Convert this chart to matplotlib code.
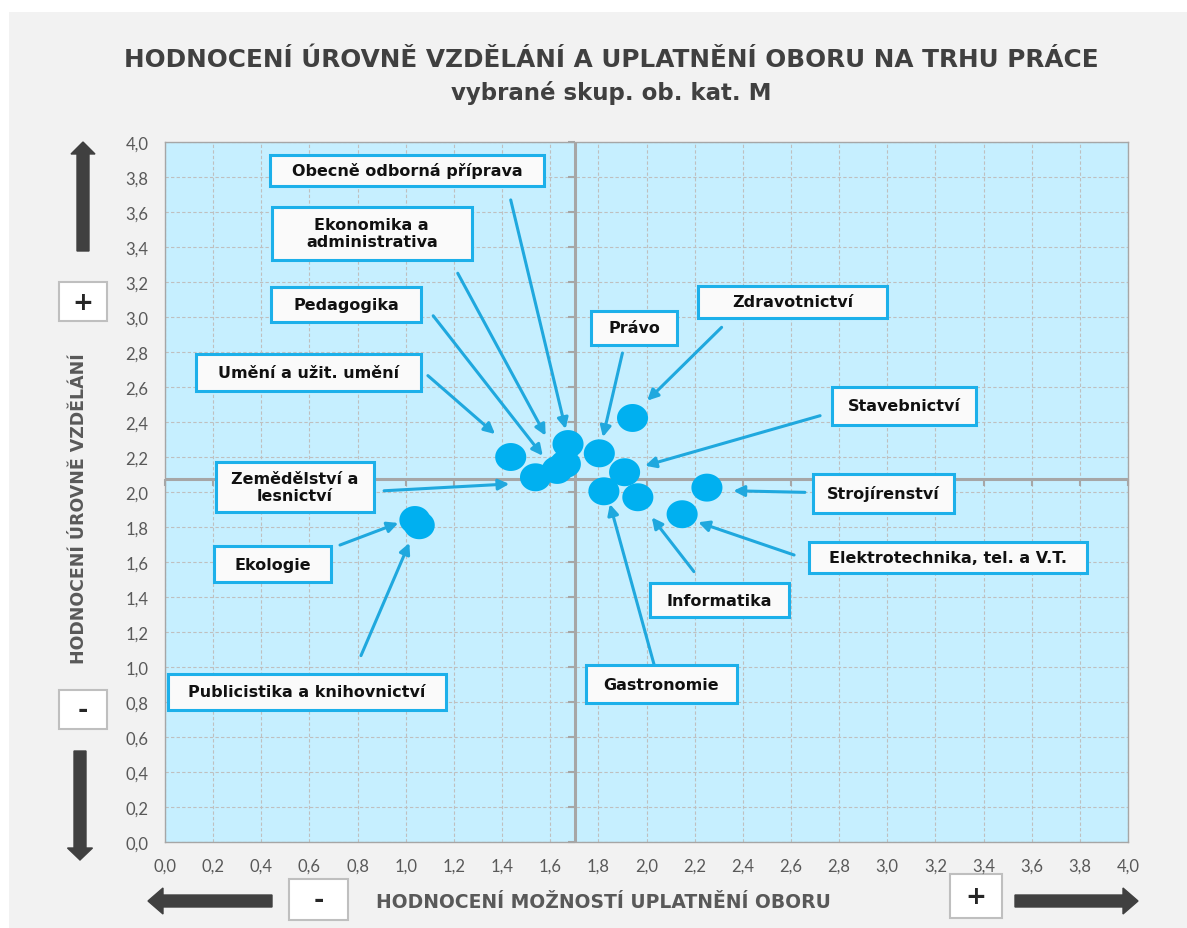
import matplotlib
matplotlib.use('Agg')
import matplotlib.pyplot as plt
from matplotlib.patches import Rectangle, FancyArrow
from matplotlib.path import Path
import numpy as np

# ---------------- data ----------------
categories = ["Obecně odborná příprava", "Ekonomika a\nadministrativa", "Pedagogika",
              "Umění a užit. umění", "Zemědělství a\nlesnictví", "Ekologie",
              "Publicistika a knihovnictví", "Právo", "Zdravotnictví", "Stavebnictví",
              "Strojírenství", "Elektrotechnika, tel. a V.T.", "Informatika", "Gastronomie"]
x_uplatneni = [1.674, 1.663, 1.629, 1.436, 1.539, 1.038, 1.056, 1.804, 1.942, 1.909,
               2.251, 2.148, 1.964, 1.823]
y_vzdelani = [2.274, 2.160, 2.126, 2.200, 2.084, 1.840, 1.810, 2.221, 2.423, 2.113,
              2.025, 1.873, 1.970, 2.004]
x_cross = 1.705
y_cross = 2.075
tick_values = [0.0, 0.2, 0.4, 0.6, 0.8, 1.0, 1.2, 1.4, 1.6, 1.8, 2.0,
               2.2, 2.4, 2.6, 2.8, 3.0, 3.2, 3.4, 3.6, 3.8, 4.0]
tick_labels = ["0,0", "0,2", "0,4", "0,6", "0,8", "1,0", "1,2", "1,4", "1,6", "1,8", "2,0",
               "2,2", "2,4", "2,6", "2,8", "3,0", "3,2", "3,4", "3,6", "3,8", "4,0"]
title = "HODNOCENÍ ÚROVNĚ VZDĚLÁNÍ A UPLATNĚNÍ OBORU NA TRHU PRÁCE"
subtitle = "vybrané skup. ob. kat. M"
xlabel = "HODNOCENÍ MOŽNOSTÍ UPLATNĚNÍ OBORU"
ylabel = "HODNOCENÍ ÚROVNĚ VZDĚLÁNÍ"

# ---------------- layout (data coords) ----------------
# label boxes: (x0, x1, y0, y1)
box_layout = [
    (0.436, 1.574, 3.749, 3.927),
    (0.444, 1.274, 3.327, 3.629),
    (0.440, 1.063, 2.974, 3.173),
    (0.129, 1.063, 2.579, 2.789),
    (0.211, 0.868, 1.884, 2.173),
    (0.205, 0.688, 1.483, 1.690),
    (0.014, 1.167, 0.756, 0.960),
    (1.769, 2.127, 2.840, 3.036),
    (2.214, 2.998, 2.994, 3.179),
    (2.772, 3.369, 2.385, 2.600),
    (2.690, 3.277, 1.878, 2.105),
    (2.675, 3.830, 1.535, 1.716),
    (2.015, 2.592, 1.287, 1.478),
    (1.749, 2.376, 0.794, 1.011),
]
# arrows: (start, tip)
arrow_layout = [
    ((1.436, 3.669), (1.664, 2.360)),
    ((1.216, 3.250), (1.581, 2.322)),
    ((1.114, 3.007), (1.569, 2.207)),
    ((1.092, 2.665), (1.371, 2.331)),
    ((0.910, 2.007), (1.430, 2.046)),
    ((0.727, 1.697), (0.969, 1.823)),
    ((0.814, 1.065), (1.015, 1.709)),
    ((1.900, 2.794), (1.819, 2.314)),
    ((2.312, 2.941), (2.003, 2.522)),
    ((2.721, 2.436), (1.994, 2.150)),
    ((2.658, 1.998), (2.361, 2.007)),
    ((2.613, 1.640), (2.215, 1.827)),
    ((2.197, 1.545), (2.022, 1.855)),
    ((2.032, 1.011), (1.848, 1.931)),
]

W, H = 1187, 929
fig = plt.figure(figsize=(W / 100, H / 100), dpi=100)
fig.patch.set_facecolor('white')

# overlay axes in pixel coordinates (behind main plot)
ovl = fig.add_axes([0, 0, 1, 1], zorder=-1)
ovl.set_xlim(0, W)
ovl.set_ylim(H, 0)
ovl.axis('off')
ovl.add_patch(Rectangle((9, 13), W - 9, H - 13, facecolor='#F2F2F2', edgecolor='none'))

# main axes
left, right, top, bottom = 165, 1128, 143, 843
ax = fig.add_axes([left / W, (H - bottom) / H, (right - left) / W, (bottom - top) / H], zorder=1)
ax.set_facecolor('#C6EFFF')
ax.set_xlim(0, 4)
ax.set_ylim(0, 4)
ax.set_xticks(tick_values)
ax.set_yticks(tick_values)
ax.set_xticklabels(tick_labels)
ax.set_yticklabels(tick_labels)
ax.tick_params(length=0, labelsize=12, labelcolor='#595959')
ax.tick_params(axis='x', pad=11)
ax.tick_params(axis='y', pad=12)
for lab in ax.get_xticklabels() + ax.get_yticklabels():
    lab.set_family('Lato')
for sp in ax.spines.values():
    sp.set_color('#A6A6A6')
    sp.set_linewidth(1.0)
ax.set_axisbelow(True)
ax.grid(True, color='#BFBFBF', linestyle=(0, (3, 2)), linewidth=0.8)

# crosshair axes lines with tick marks
ax.axvline(x_cross, color='#A6A6A6', lw=2.2, zorder=2)
ax.axhline(y_cross, color='#A6A6A6', lw=2.2, zorder=2)
ax.plot([x_cross] * len(tick_values), tick_values, ls='none', marker=0, ms=5, mew=1.5,
        color='#A6A6A6', zorder=2, clip_on=False)
ax.plot(tick_values, [y_cross] * len(tick_values), ls='none', marker=3, ms=5, mew=1.5,
        color='#A6A6A6', zorder=2, clip_on=False)

# elliptical markers
theta = np.linspace(0, 2 * np.pi, 80)
ell = Path(np.column_stack([np.cos(theta), 0.9 * np.sin(theta)]), closed=True)
ax.scatter(x_uplatneni, y_vzdelani, marker=ell, s=500, color='#00B0F0',
           edgecolors='none', zorder=3)

# arrows and label boxes
for (start, tip) in arrow_layout:
    ax.annotate('', xy=tip, xytext=start,
                arrowprops=dict(arrowstyle='-|>', color='#1FA8DE', lw=2.2,
                                mutation_scale=16, shrinkA=0, shrinkB=0),
                zorder=4)
for name, (x0, x1, y0, y1) in zip(categories, box_layout):
    ax.add_patch(Rectangle((x0, y0), x1 - x0, y1 - y0, facecolor='#FAFAFA',
                           edgecolor='#1CB0EA', lw=2.2, zorder=5))
    ax.text((x0 + x1) / 2, (y0 + y1) / 2, name, ha='center', va='center',
            fontsize=11.5, fontweight='bold', family='DejaVu Sans', color='#111111',
            linespacing=1.15, zorder=6)

# titles and axis labels
ovl.text(611, 60, title, ha='center', va='center', fontsize=17.8, fontweight='bold',
         color='#404040', family='DejaVu Sans')
ovl.text(611, 93, subtitle, ha='center', va='center', fontsize=16.5, fontweight='bold',
         color='#404040', family='DejaVu Sans')
ovl.text(603, 903, xlabel, ha='center', va='center', fontsize=13.5, fontweight='bold',
         color='#595959', family='DejaVu Sans')
ovl.text(79, 509, ylabel, ha='center', va='center', rotation=90, fontsize=12.5,
         fontweight='bold', color='#595959', family='DejaVu Sans')

# plus / minus boxes
def sign_box(x, y, w, h, s):
    ovl.add_patch(Rectangle((x, y), w, h, facecolor='white', edgecolor='#BFBFBF', lw=1.5))
    ovl.text(x + w / 2, y + h / 2, s, ha='center', va='center', fontsize=18,
             fontweight='bold', color='#262626', family='DejaVu Sans')

sign_box(59, 283, 48, 39, '+')
sign_box(59, 691, 48, 39, '-')
sign_box(289, 880, 59, 41, '-')
sign_box(950, 875, 52, 44, '+')

# big dark arrows
ac = '#404040'
ovl.add_patch(FancyArrow(83, 252, 0, -109, width=12, head_width=24, head_length=12,
                         length_includes_head=True, color=ac))
ovl.add_patch(FancyArrow(80, 752, 0, 109, width=12, head_width=25, head_length=12,
                         length_includes_head=True, color=ac))
ovl.add_patch(FancyArrow(272, 902, -124, 0, width=12, head_width=26, head_length=15,
                         length_includes_head=True, color=ac))
ovl.add_patch(FancyArrow(1015, 902, 123, 0, width=12, head_width=26, head_length=15,
                         length_includes_head=True, color=ac))

fig.savefig('out.png', dpi=100)
